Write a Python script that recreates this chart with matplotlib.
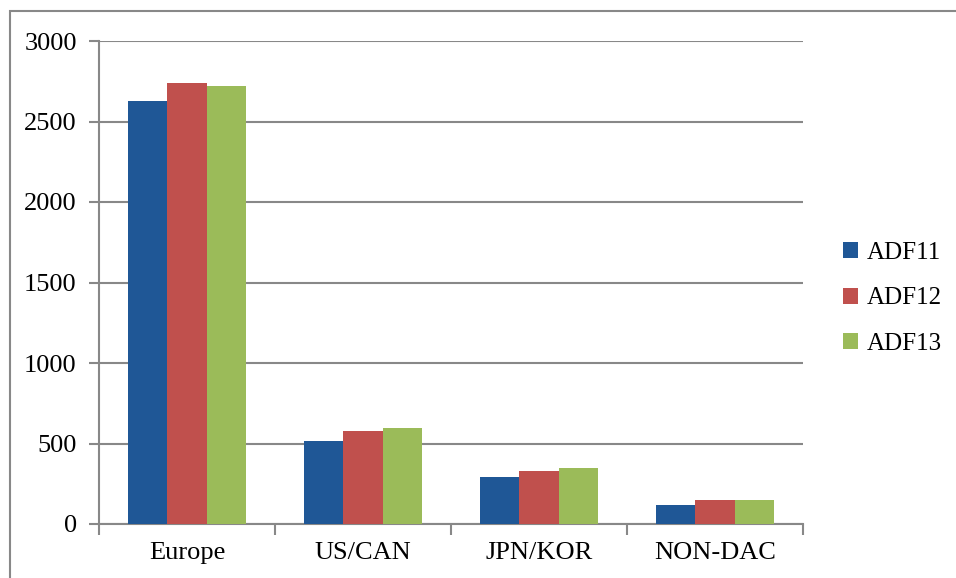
import numpy as np
import matplotlib.pyplot as plt
import matplotlib
from matplotlib.patches import Rectangle

matplotlib.rc("font", family="Liberation Serif", size=19)

regions = ["Europe", "US/CAN", "JPN/KOR", "NON-DAC"]
series = ["ADF11", "ADF12", "ADF13"]
adf11 = [2627, 515, 290, 120]
adf12 = [2740, 580, 330, 150]
adf13 = [2720, 598, 348, 150]
colors = ["#1F5796", "#C0504D", "#9BBB59"]

fig = plt.figure(figsize=(9.56, 5.78), dpi=100)
ax = fig.add_axes([99 / 956, 1 - 524 / 578, 704 / 956, 483 / 578])

x = np.arange(len(regions))
w = 0.222
for i, (vals, name) in enumerate(zip([adf11, adf12, adf13], series)):
    ax.bar(x + (i - 1) * w, vals, w, color=colors[i], label=name, zorder=3)

grid_c = "#888888"
ax.set_xlim(-0.5, len(regions) - 0.5)
ax.set_ylim(0, 3000)
ax.set_yticks(np.arange(0, 3001, 500))
ax.yaxis.grid(True, color=grid_c, lw=1.5, zorder=0)
ax.set_xticks(x)
ax.set_xticklabels(regions)
ax.tick_params(axis="x", length=0, pad=13)
ax.set_xticks(np.arange(-0.5, len(regions)), minor=True)
ax.tick_params(axis="x", which="minor", length=8, width=1.5, color=grid_c)
ax.tick_params(axis="y", length=7, width=1.5, color=grid_c, pad=9)
for s in ["top", "right"]:
    ax.spines[s].set_visible(False)
for s in ["left", "bottom"]:
    ax.spines[s].set_color(grid_c)
    ax.spines[s].set_linewidth(1.5)

ax.legend(loc="center left", bbox_to_anchor=(1.025, 0.467), frameon=False,
          fontsize=18, handlelength=0.6, handleheight=0.6, handletextpad=0.35,
          labelspacing=0.95)

fig.patches.append(Rectangle((10 / 956, -0.1), 1.2, 1.1 - 11 / 578,
                             transform=fig.transFigure, fill=False,
                             edgecolor=grid_c, lw=1.5))

fig.savefig("out.png", dpi=100)
